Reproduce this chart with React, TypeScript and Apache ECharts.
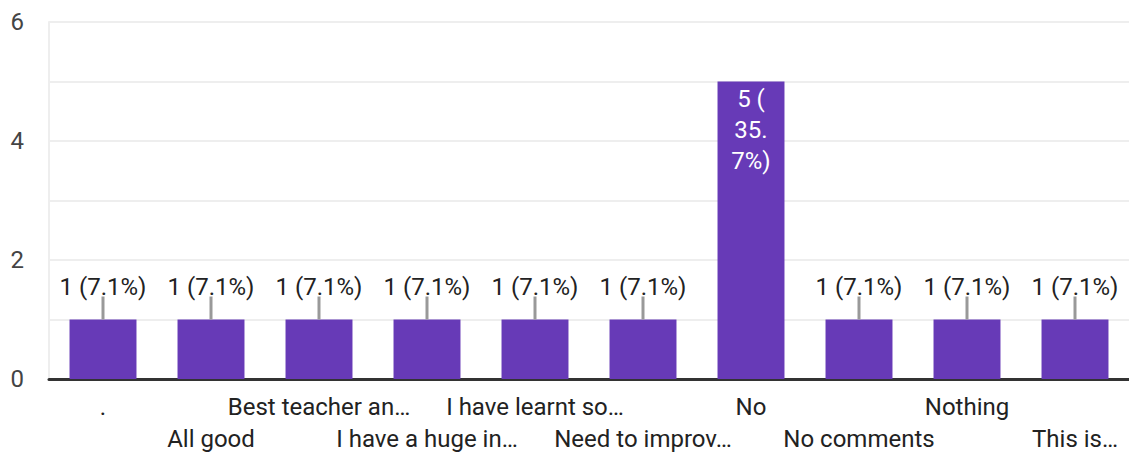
import React, { useEffect, useRef } from "react";
import * as echarts from "echarts";

const categories = [
  ".",
  "All good",
  "Best teacher an…",
  "I have a huge in…",
  "I have learnt so…",
  "Need to improv…",
  "No",
  "No comments",
  "Nothing",
  "This is…",
];
const counts = [1, 1, 1, 1, 1, 1, 5, 1, 1, 1];
const yTicks = [0, 2, 4, 6];

const BAR = "#673AB7";
const FONT = "Roboto, Arial, 'Liberation Sans', sans-serif";

export default function App() {
  const ref = useRef<HTMLDivElement>(null);
  useEffect(() => {
    document.body.style.margin = "0";
    const chart = echarts.init(ref.current!, null, { renderer: "svg" });
    const total = counts.reduce((a, b) => a + b, 0);
    const pct = (v: number) => ((v / total) * 100).toFixed(1);
    const maxV = Math.max(...counts);

    const barData = counts.map((v) => {
      if (v === maxV) {
        const p = pct(v);
        const [a, b] = p.split(".");
        return {
          value: v,
          label: {
            position: "insideTop",
            distance: 2,
            color: "#ffffff",
            lineHeight: 31,
            formatter: `${v} (\n${a}.\n${b}%)`,
          },
        };
      }
      return { value: v };
    });

    chart.setOption({
      animation: false,
      textStyle: { fontFamily: FONT },
      grid: { left: 49, right: -3, top: 22, bottom: 75, containLabel: false },
      xAxis: {
        type: "category",
        data: categories,
        axisTick: { show: false },
        axisLine: { lineStyle: { color: "#333333", width: 3 } },
        axisLabel: {
          interval: 0,
          color: "#222222",
          fontSize: 24,
          fontFamily: FONT,
          lineHeight: 32,
          margin: 12,
          formatter: (v: string, i: number) => (i % 2 === 1 ? "\n" + v : v),
        },
      },
      yAxis: {
        type: "value",
        min: 0,
        max: 6,
        interval: 1,
        axisLine: { show: true, lineStyle: { color: "#eeeeee", width: 2 } },
        axisTick: { show: false },
        splitLine: { lineStyle: { color: "#eeeeee", width: 2 } },
        axisLabel: {
          color: "#444444",
          fontSize: 24,
          fontFamily: FONT,
          margin: 25,
          formatter: (v: number) => (yTicks.includes(v) ? String(v) : ""),
        },
      },
      series: [
        {
          type: "bar",
          data: barData,
          barWidth: "62%",
          itemStyle: { color: BAR },
          label: {
            show: true,
            position: "top",
            distance: 21,
            color: "#222222",
            fontSize: 24,
            fontFamily: FONT,
            formatter: (p: any) => `${p.value} (${pct(p.value)}%)`,
          },
          z: 2,
        },
        {
          type: "custom",
          data: counts.map((v, i) => [i, v]),
          z: 3,
          renderItem: (params: any, api: any) => {
            const v = api.value(1);
            if (v === maxV) return null;
            const pt = api.coord([api.value(0), v]);
            return {
              type: "line",
              shape: { x1: pt[0], y1: pt[1], x2: pt[0], y2: pt[1] - 23 },
              style: { stroke: "#999999", lineWidth: 3 },
            };
          },
        },
      ],
    });
    return () => chart.dispose();
  }, []);
  return <div ref={ref} style={{ width: 1129, height: 455 }} />;
}
